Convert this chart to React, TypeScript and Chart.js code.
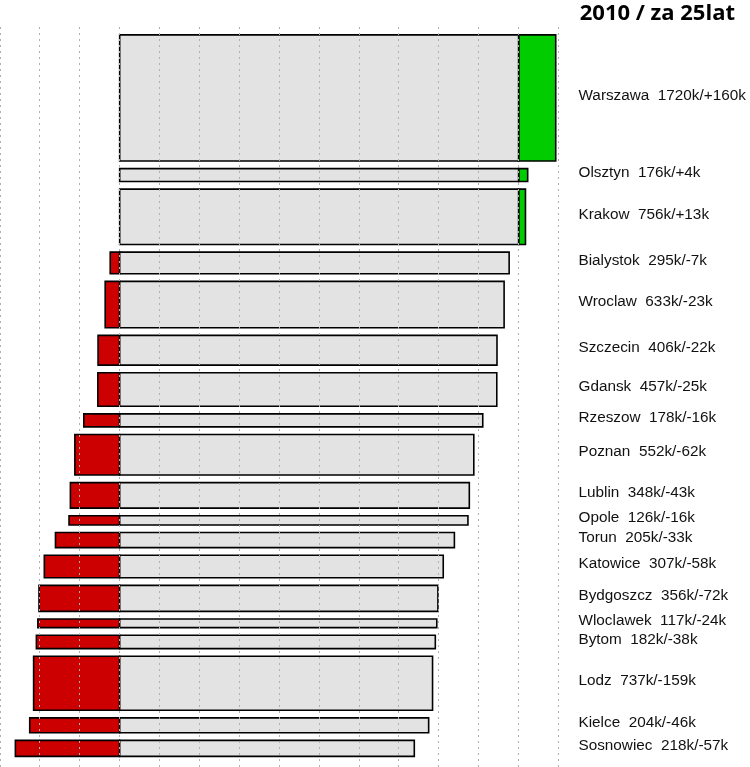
import { useEffect, useRef } from 'react';
import { Chart, registerables } from 'chart.js';

Chart.register(...registerables);

const TITLE = '2010 / za 25lat';
const CITIES = [
  'Warszawa', 'Olsztyn', 'Krakow', 'Bialystok', 'Wroclaw', 'Szczecin', 'Gdansk',
  'Rzeszow', 'Poznan', 'Lublin', 'Opole', 'Torun', 'Katowice', 'Bydgoszcz',
  'Wloclawek', 'Bytom', 'Lodz', 'Kielce', 'Sosnowiec',
];
// population in 2010 (thousands)
const POPULATION = [1720, 176, 756, 295, 633, 406, 457, 178, 552, 348, 126, 205, 307, 356, 117, 182, 737, 204, 218];
// forecast change in 25 years (thousands)
const CHANGE = [160, 4, 13, -7, -23, -22, -25, -16, -62, -43, -16, -33, -58, -72, -24, -38, -159, -46, -57];
const X_MIN = -30;
const X_MAX = 110;
const X_STEP = 10;
const GAP = 104; // spacing between bars, in thousands of inhabitants
const Y_MIN = -108;
const Y_MAX = 9990;

const GRAY = '#e3e3e3';
const RED = '#cc0000';
const GREEN = '#00cc00';

function rect(xa: number, xb: number, ya: number, yb: number, color: string) {
  const xm = (xa + xb) / 2;
  return {
    data: [
      { x: xm, y: ya },
      { x: xb, y: ya },
      { x: xb, y: yb },
      { x: xa, y: yb },
      { x: xa, y: ya },
      { x: xm, y: ya },
    ],
    showLine: true,
    fill: 'shape',
    backgroundColor: color,
    borderColor: '#000',
    borderWidth: 1.6,
    borderJoinStyle: 'miter',
    pointRadius: 0,
    pointHoverRadius: 0,
    tension: 0,
  };
}

function buildData() {
  const datasets: any[] = [];
  const centers: number[] = [];
  const labels: string[] = [];
  let top = 0;
  CITIES.forEach((city, i) => {
    const pop = POPULATION[i];
    const ch = CHANGE[i];
    const pct = (ch / pop) * 100;
    const y0 = top;
    const y1 = top + pop;
    centers.push((y0 + y1) / 2);
    labels.push(`${city}  ${pop}k/${ch >= 0 ? '+' : ''}${ch}k`);
    if (pct >= 0) {
      datasets.push(rect(0, 100, y0, y1, GRAY));
      datasets.push(rect(100, 100 + pct, y0, y1, GREEN));
    } else {
      datasets.push(rect(0, 100 + pct, y0, y1, GRAY));
      datasets.push(rect(pct, 0, y0, y1, RED));
    }
    top = y1 + GAP;
  });
  return { datasets, centers, labels };
}

export default function App() {
  const ref = useRef<HTMLCanvasElement | null>(null);
  useEffect(() => {
    if (!ref.current) return;
    const { datasets, centers, labels } = buildData();
    const chart = new Chart(ref.current, {
      type: 'scatter',
      data: { datasets },
      options: {
        animation: false,
        responsive: false,
        events: [],
        layout: { padding: { right: 0, left: 0, top: 27, bottom: 0 } },
        plugins: {
          legend: { display: false },
          tooltip: { enabled: false },
          title: { display: false },
        },
        scales: {
          x: {
            type: 'linear',
            min: X_MIN,
            max: X_MAX,
            border: { display: false, dash: [2, 4] },
            ticks: { display: false, stepSize: X_STEP },
            grid: { color: '#b0b0b0', lineWidth: 1, drawTicks: false, z: 1 },
          },
          y: {
            type: 'linear',
            position: 'right',
            reverse: true,
            min: Y_MIN,
            max: Y_MAX,
            border: { display: false },
            grid: { display: false, drawTicks: false },
            ticks: {
              autoSkip: false,
              padding: 20,
              labelOffset: -2.5,
              color: '#111',
              font: { family: '"Liberation Sans", Arial, sans-serif', size: 15.3 },
              callback: (_v: any, i: number) => labels[i],
            },
            afterBuildTicks: (s: any) => {
              s.ticks = centers.map((v) => ({ value: v }));
            },
            afterFit: (s: any) => {
              s.width = 191.5;
              s.paddingTop = 0;
              s.paddingBottom = 0;
            },
          },
        },
      } as any,
    });
    return () => chart.destroy();
  }, []);
  return (
    <div style={{ position: 'absolute', left: 0, top: 0, width: 750, height: 767, background: '#fff' }}>
      <canvas ref={ref} width={750} height={767} style={{ display: 'block' }} />
      <div
        style={{
          position: 'absolute',
          right: 15,
          top: 0,
          height: 27,
          lineHeight: '23px',
          fontFamily: '"Open Sans", sans-serif',
          fontWeight: 700,
          fontSize: 22,
          color: '#000',
          whiteSpace: 'pre',
        }}
      >
        {TITLE}
      </div>
    </div>
  );
}
